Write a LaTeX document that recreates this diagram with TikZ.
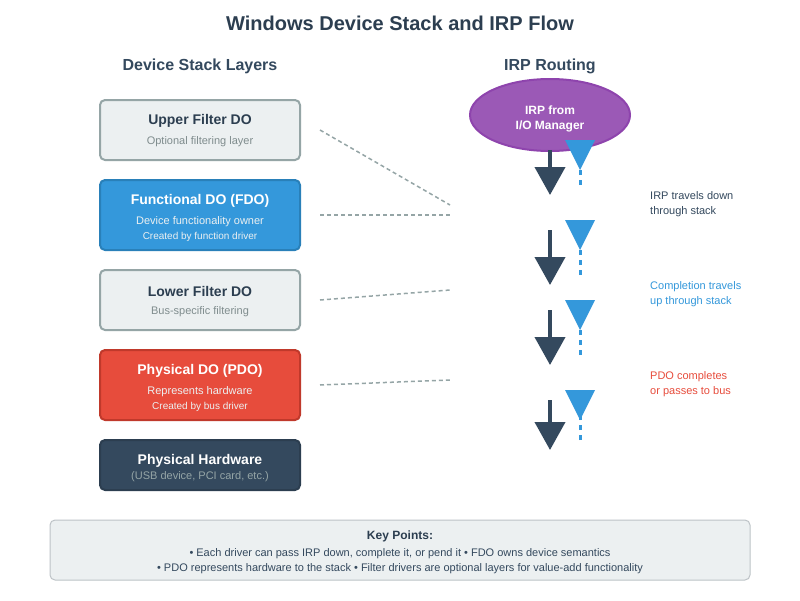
\documentclass[tikz,border=0pt]{standalone}
\usepackage{fontspec}
\setmainfont{Liberation Sans}
\usetikzlibrary{arrows.meta,shapes.geometric}
\definecolor{ink}{HTML}{2C3E50}
\definecolor{slate}{HTML}{34495E}
\definecolor{cloud}{HTML}{ECF0F1}
\definecolor{ash}{HTML}{95A5A6}
\definecolor{silver}{HTML}{BDC3C7}
\definecolor{mute}{HTML}{7F8C8D}
\definecolor{sky}{HTML}{3498DB}
\definecolor{skyb}{HTML}{2980B9}
\definecolor{tomato}{HTML}{E74C3C}
\definecolor{tomatob}{HTML}{C0392B}
\definecolor{plum}{HTML}{9B59B6}
\definecolor{plumb}{HTML}{8E44AD}

\begin{document}
\begin{tikzpicture}[x=1pt,y=-1pt,
  layer/.style={draw, line width=2pt, rounded corners=5pt, minimum width=200pt, inner sep=0pt},
  ttl/.style={font=\fontsize{14}{16}\selectfont\bfseries},
  sub/.style={font=\fontsize{11}{13}\selectfont},
  tiny/.style={font=\fontsize{10}{12}\selectfont},
  hdr/.style={font=\fontsize{16}{18}\selectfont\bfseries, text=slate},
  note/.style={font=\fontsize{11}{15.5}\selectfont, align=left, anchor=west, inner xsep=0pt},
  link/.style={draw=ash, line width=1.5pt, dash pattern=on 4pt off 3pt}]
\useasboundingbox (0,0) rectangle (800,600);
\fill[white] (0,0) rectangle (800,600);

\node[font=\fontsize{20}{24}\selectfont\bfseries, text=ink] (title) at (400,23) {Windows Device Stack and IRP Flow};
\node[hdr] (lhdr) at (200,66) {Device Stack Layers};
\node[hdr] (rhdr) at (550,66) {IRP Routing};

% device stack
\node[layer, fill=cloud, draw=ash, minimum height=60pt] (upper) at (200,130) {};
\node[ttl, text=ink] at (200,121) {Upper Filter DO};
\node[sub, text=mute] at (200,142) {Optional filtering layer};

\node[layer, fill=sky, draw=skyb, minimum height=70pt] (fdo) at (200,215) {};
\node[ttl, text=white] at (200,201) {Functional DO (FDO)};
\node[sub, text=cloud] at (200,222) {Device functionality owner};
\node[tiny, text=cloud] at (200,237) {Created by function driver};

\node[layer, fill=cloud, draw=ash, minimum height=60pt] (lower) at (200,300) {};
\node[ttl, text=ink] at (200,291) {Lower Filter DO};
\node[sub, text=mute] at (200,312) {Bus-specific filtering};

\node[layer, fill=tomato, draw=tomatob, minimum height=70pt] (pdo) at (200,385) {};
\node[ttl, text=white] at (200,371) {Physical DO (PDO)};
\node[sub, text=cloud] at (200,392) {Represents hardware};
\node[tiny, text=cloud] at (200,407) {Created by bus driver};

\node[layer, fill=slate, draw=ink, minimum height=50pt] (hw) at (200,465) {};
\node[ttl, text=white] at (200,461) {Physical Hardware};
\node[sub, text=ash] at (200,477) {(USB device, PCI card, etc.)};

% irp routing
\node[ellipse, fill=plum, draw=plumb, line width=2pt, minimum width=160pt, minimum height=72pt] (irp) at (550,115) {};
\node[text=white, align=center, font=\fontsize{12}{15}\selectfont\bfseries] (irptxt) at (550,119) {IRP from\\I/O Manager};

\foreach \t/\b in {150/195, 230/285, 310/365, 400/450}
  \draw[slate, line width=4pt, -{Triangle[length=28pt,width=30pt]}] (550,\t) -- (550,\b);
\foreach \t/\b in {140/185, 220/275, 300/355, 390/440} {
  \draw[sky, line width=3pt, dash pattern=on 5pt off 5pt] (580,\b) -- (580,\t);
  \fill[sky] (565,\t) -- (595,\t) -- (580,\t+30) -- cycle;
}

\foreach \a/\b/\c/\d in {320/130/450/205, 320/215/450/215, 320/300/450/290, 320/385/450/380}
  \draw[link] (\a,\b) -- (\c,\d);

\node[note, text=slate] at (650,204) {IRP travels down\\through stack};
\node[note, text=sky] at (650,294) {Completion travels\\up through stack};
\node[note, text=tomato] at (650,384) {PDO completes\\or passes to bus};

% key points
\node[draw=silver, fill=cloud, line width=1pt, rounded corners=5pt, minimum width=700pt, minimum height=60pt] (keys) at (400,550) {};
\node[font=\fontsize{12}{14}\selectfont\bfseries, text=ink] at (400,536) {Key Points:};
\node[sub, text=slate] at (400,554) {• Each driver can pass IRP down, complete it, or pend it • FDO owns device semantics};
\node[sub, text=slate] at (400,569) {• PDO represents hardware to the stack • Filter drivers are optional layers for value-add functionality};
\end{tikzpicture}
\end{document}
